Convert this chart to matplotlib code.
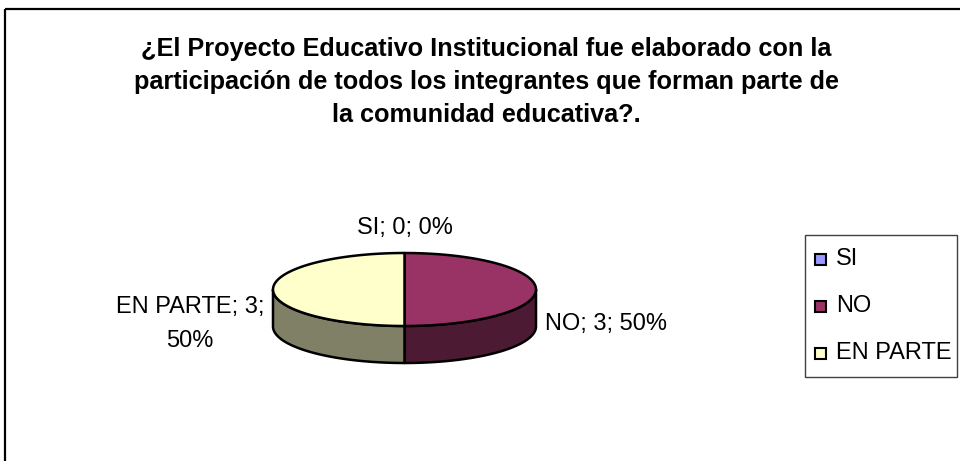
import numpy as np
import matplotlib
matplotlib.use('Agg')
from matplotlib import pyplot as plt
from matplotlib.patches import Polygon, Rectangle

plt.rcParams['font.family'] = ['Liberation Sans', 'DejaVu Sans']

title = ('¿El Proyecto Educativo Institucional fue elaborado con la\n'
         'participación de todos los integrantes que forman parte de\n'
         'la comunidad educativa?.')
labels = ['SI', 'NO', 'EN PARTE']
values = [0, 3, 3]
top_colors = ['#9999FF', '#993366', '#FFFFCC']
side_colors = ['#4D4D80', '#4D1A33', '#808066']

fig = plt.figure(figsize=(9.6, 4.61), dpi=100)
ax = fig.add_axes([0, 0, 1, 1])
ax.set_xlim(0, 960)
ax.set_ylim(461, 0)
ax.axis('off')

# outer chart frame (runs off the right/bottom edge)
ax.add_patch(Rectangle((5, 9), 1000, 500, fill=False, ec='black', lw=1.6))

ax.text(486, 82, title, ha='center', va='center', fontsize=18.2,
        fontweight='bold', linespacing=1.48)

# 3d pie geometry
cx, cy, rx, ry, depth = 404.5, 289.5, 131.5, 36.5, 37

def pt(phi, dy=0):
    # phi in degrees, clockwise from 12 o'clock
    r = np.radians(phi)
    return cx + rx * np.sin(r), cy - ry * np.cos(r) + dy

total = sum(values)
starts = np.cumsum([0] + values[:-1]) / total * 360
ends = np.cumsum(values) / total * 360

# sides first (front half only: 90..270)
for a0, a1, sc in zip(starts, ends, side_colors):
    lo, hi = max(a0, 90), min(a1, 270)
    if hi <= lo:
        continue
    ph = np.linspace(lo, hi, 60)
    top = [pt(p) for p in ph]
    bot = [pt(p, depth) for p in ph[::-1]]
    ax.add_patch(Polygon(top + bot, closed=True, fc=sc, ec='black', lw=1.8,
                         joinstyle='round'))

# top faces
for a0, a1, tc in zip(starts, ends, top_colors):
    if a1 <= a0:
        continue
    ph = np.linspace(a0, a1, 120)
    poly = [(cx, cy)] + [pt(p) for p in ph]
    ax.add_patch(Polygon(poly, closed=True, fc=tc, ec='black', lw=1.8,
                         joinstyle='round'))

# data labels
pcts = [v / total * 100 for v in values]
ax.text(405, 228, f'{labels[0]}; {values[0]}; {pcts[0]:.0f}%', ha='center',
        va='center', fontsize=17)
ax.text(545, 324, f'{labels[1]}; {values[1]}; {pcts[1]:.0f}%', ha='left',
        va='center', fontsize=17)
ax.text(190, 324, f'{labels[2]}; {values[2]};\n{pcts[2]:.0f}%', ha='center',
        va='center', fontsize=17, linespacing=1.65)

# legend
ax.add_patch(Rectangle((805, 235), 152, 142, fill=False, ec='#404040', lw=1))
for i, (lab, tc) in enumerate(zip(labels, top_colors)):
    y = 259 + i * 47
    ax.add_patch(Rectangle((815, y - 5), 11, 11, fc=tc, ec='black', lw=1.5))
    ax.text(836, y, lab, ha='left', va='center', fontsize=17)

fig.savefig('out.png', dpi=100)
